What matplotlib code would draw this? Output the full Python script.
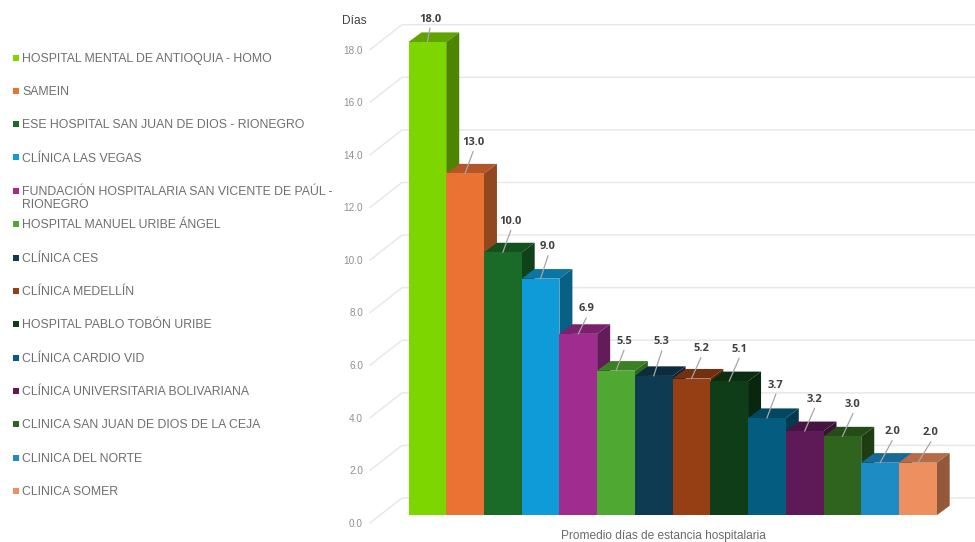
import matplotlib
matplotlib.use('Agg')
import matplotlib.pyplot as plt
from matplotlib.colors import to_rgb
from matplotlib.patches import Polygon, Rectangle

plt.rcParams['font.family'] = ['Liberation Sans', 'DejaVu Sans']

# datos
hospitales = ['HOSPITAL MENTAL DE ANTIOQUIA - HOMO', 'SAMEIN', 'ESE HOSPITAL SAN JUAN DE DIOS - RIONEGRO',
              'CLÍNICA LAS VEGAS', 'FUNDACIÓN HOSPITALARIA SAN VICENTE DE PAÚL -\nRIONEGRO',
              'HOSPITAL MANUEL URIBE ÁNGEL', 'CLÍNICA CES', 'CLÍNICA MEDELLÍN', 'HOSPITAL PABLO TOBÓN URIBE',
              'CLÍNICA CARDIO VID', 'CLÍNICA UNIVERSITARIA BOLIVARIANA', 'CLINICA SAN JUAN DE DIOS DE LA CEJA',
              'CLINICA DEL NORTE', 'CLINICA SOMER']
dias = [18.0, 13.0, 10.0, 9.0, 6.9, 5.5, 5.3, 5.2, 5.1, 3.7, 3.2, 3.0, 2.0, 2.0]
colores = ['#7ed600', '#ea7233', '#1a6b28', '#0f9bd7', '#a02c90', '#4fa832', '#0e3a52',
           '#963f14', '#0e3d17', '#045d80', '#5e1a56', '#2f641e', '#1e8cc4', '#ee8f5f']
ticks_y = [0, 2, 4, 6, 8, 10, 12, 14, 16, 18]

# posicion de las etiquetas respecto a la barra, en pixeles
label_dx = [2.6, 8, 8, 7.5, 8, 8, 8, 9.5, 10, 9, 10, 10.6, 12, 13]
label_dy = [23, 31, 31, 32, 25, 29.5, 34, 30, 32, 33, 32, 32, 31, 30]
# centro vertical de cada fila de la leyenda, en pixeles desde arriba
legend_y = [58, 91, 124, 157.5, 190.5, 224.5, 258, 291, 324, 357.5, 391, 424, 457.5, 491]

W, H = 975, 542
fig = plt.figure(figsize=(W / 100, H / 100), dpi=100)
ax = fig.add_axes([408.5 / W, 1 - 515.3 / H, 528.2 / W, 473.3 / H])
ax.set_xlim(-0.5, 13.5)
ax.set_ylim(0, 18)
ax.axis('off')

px_x = 14 / 528.2   # un pixel en unidades de x
px_y = 18 / 473.3   # un pixel en unidades de y


def oscurecer(color, factor):
    return tuple(c * factor for c in to_rgb(color))


# pared del fondo y piso
back_x = -0.5 - 6.5 * px_x
front_x = -0.5 - 38.5 * px_x
back_off = 17.3 * px_y
front_off = -7.7 * px_y
for t in ticks_y:
    ax.plot([front_x, back_x, 14.6], [t + front_off, t + back_off, t + back_off],
            color='#e8e8e8', lw=1.1, clip_on=False, zorder=1)
    ax.text(front_x - 7 * px_x, t + front_off - 0.8 * px_y, f'{t:.1f}', ha='right', va='center',
            fontsize=7.2, color='#909090')

# barras 3D
depth_x = 13 * px_x
depth_y = 9.6 * px_y
for i, (v, c) in enumerate(zip(dias, colores)):
    z = 2 + i
    ax.bar(i, v, width=1.0, color=c, zorder=z + 0.2, clip_on=False)
    top = [(i - 0.5, v), (i + 0.5, v), (i + 0.5 + depth_x, v + depth_y), (i - 0.5 + depth_x, v + depth_y)]
    side = [(i + 0.5, 0), (i + 0.5 + depth_x, depth_y), (i + 0.5 + depth_x, v + depth_y), (i + 0.5, v)]
    ax.add_patch(Polygon(top, closed=True, fc=oscurecer(c, 0.76), ec='none', zorder=z, clip_on=False))
    ax.add_patch(Polygon(side, closed=True, fc=oscurecer(c, 0.62), ec='none', zorder=z, clip_on=False))

# etiquetas de valor con linea guia
for i, v in enumerate(dias):
    ox, oy = label_dx[i] * 0.72, label_dy[i] * 0.72
    ax.annotate('', xy=(i, v), xytext=(ox, oy - 6.5), textcoords='offset points',
                arrowprops=dict(arrowstyle='-', color='#a6a6a6', lw=0.9, shrinkA=0, shrinkB=0),
                zorder=30, annotation_clip=False)
    ax.annotate(f'{v:.1f}', xy=(i, v), xytext=(ox, oy), textcoords='offset points',
                ha='center', va='center', fontsize=8, fontweight='bold', color='#404040',
                family=['Open Sans', 'DejaVu Sans'], zorder=31, annotation_clip=False)

# leyenda
for nombre, c, y in zip(hospitales, colores, legend_y):
    fig.patches.append(Rectangle((13 / W, 1 - (y + 3) / H), 6 / W, 6 / H, transform=fig.transFigure,
                                 fc=c, ec='none', figure=fig))
    fig.text(22 / W, 1 - (y - 5) / H, nombre, ha='left', va='top', fontsize=8.8, color='#6e6e6e',
             linespacing=1.2)

fig.text(354 / W, 1 - 20.5 / H, 'Días', ha='center', va='center', fontsize=8.6, color='#404040')
fig.text(663 / W, 1 - 536 / H, 'Promedio días de estancia hospitalaria', ha='center', va='center',
         fontsize=8.6, color='#6a6a6a')

fig.savefig('out.png', dpi=100)
